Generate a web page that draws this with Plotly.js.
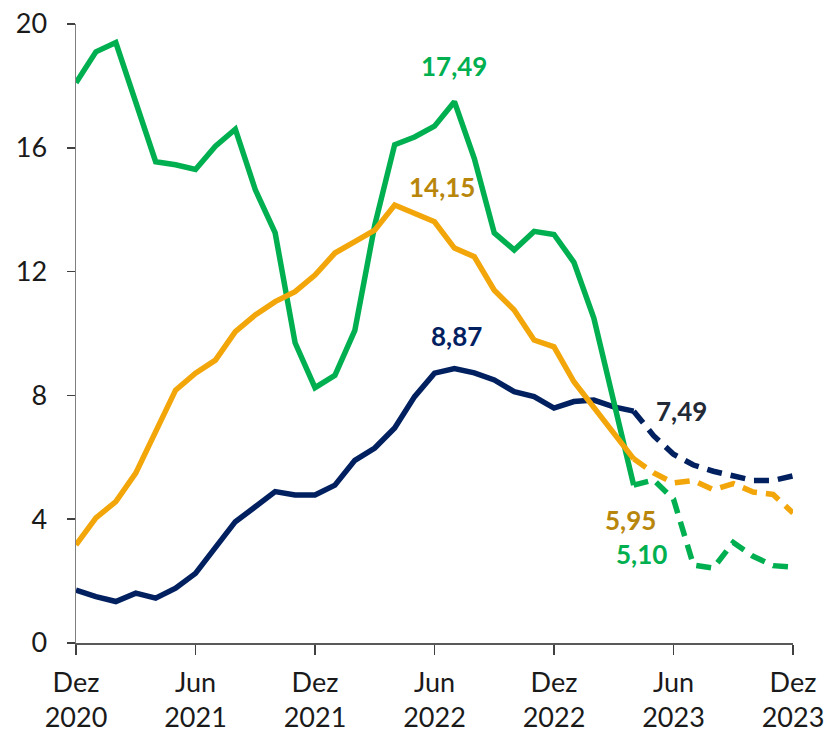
<!DOCTYPE html>
<html>
<head>
<meta charset="utf-8">
<script src="https://cdn.plot.ly/plotly-3.0.1.min.js"></script>
<style>
  html, body { margin: 0; padding: 0; background: #fff; }
  #plotArea { width: 825px; height: 732px; }
</style>
</head>
<body>
<div id="plotArea"></div>
<script>
// months, Dez 2020 .. Dez 2023
var months = ["Dez 2020", "Jan 2021", "Fev 2021", "Mar 2021", "Abr 2021", "Mai 2021", "Jun 2021",
  "Jul 2021", "Ago 2021", "Set 2021", "Out 2021", "Nov 2021", "Dez 2021",
  "Jan 2022", "Fev 2022", "Mar 2022", "Abr 2022", "Mai 2022", "Jun 2022",
  "Jul 2022", "Ago 2022", "Set 2022", "Out 2022", "Nov 2022", "Dez 2022",
  "Jan 2023", "Fev 2023", "Mar 2023", "Abr 2023"];
var monthsProj = ["Abr 2023", "Mai 2023", "Jun 2023", "Jul 2023", "Ago 2023",
  "Set 2023", "Out 2023", "Nov 2023", "Dez 2023"];

// observed series
var green = [18.1, 19.1, 19.4, 17.5, 15.55, 15.45, 15.3, 16.05, 16.6, 14.65, 13.25, 9.7, 8.25,
  8.65, 10.1, 13.5, 16.1, 16.35, 16.7, 17.49, 15.65, 13.25, 12.7, 13.3, 13.2,
  12.3, 10.5, 7.8, 5.10];
var orange = [3.17, 4.04, 4.57, 5.49, 6.83, 8.17, 8.72, 9.14, 10.06, 10.6, 11.03, 11.35, 11.89,
  12.6, 12.97, 13.34, 14.15, 13.9, 13.61, 12.76, 12.48, 11.4, 10.76, 9.79, 9.57,
  8.44, 7.63, 6.78, 5.95];
var navy = [1.71, 1.5, 1.34, 1.61, 1.45, 1.77, 2.25, 3.06, 3.92, 4.4, 4.89, 4.78, 4.78,
  5.1, 5.9, 6.3, 6.95, 7.96, 8.72, 8.87, 8.73, 8.5, 8.12, 7.96, 7.59,
  7.8, 7.85, 7.63, 7.49];

// projections (dashed)
var greenProj = [5.10, 5.27, 4.65, 2.52, 2.42, 3.25, 2.8, 2.5, 2.45];
var orangeProj = [5.95, 5.5, 5.17, 5.25, 4.95, 5.15, 4.88, 4.8, 4.2];
var navyProj = [7.49, 6.7, 6.1, 5.75, 5.55, 5.4, 5.25, 5.25, 5.4];

var tickMonths = ["Dez 2020", "Jun 2021", "Dez 2021", "Jun 2022", "Dez 2022", "Jun 2023", "Dez 2023"];
var tickLabels = ["Dez<br>2020", "Jun<br>2021", "Dez<br>2021", "Jun<br>2022", "Dez<br>2022", "Jun<br>2023", "Dez<br>2023"];

var cGreen = "#00B050", cOrange = "#F2A60A", cNavy = "#002060";
var dashStyle = "15px,9px";

function line(x, y, color, dash) {
  return {
    x: x, y: y, type: "scatter", mode: "lines", hoverinfo: "skip",
    line: {color: color, width: 5.5, dash: dash || "solid"}
  };
}

var traces = [
  line(months, navy, cNavy),
  line(months, green, cGreen),
  line(months, orange, cOrange),
  line(monthsProj, navyProj, cNavy, dashStyle),
  line(monthsProj, greenProj, cGreen, dashStyle),
  line(monthsProj, orangeProj, cOrange, dashStyle)
];

var fontFam = "Lato, 'Open Sans', sans-serif";

function fmt(v) { return v.toFixed(2).replace(".", ","); }

function label(xv, yv, color, dx, dy) {
  return {
    x: xv, y: yv, xref: "x", yref: "y", text: "<b>" + fmt(yv) + "</b>",
    showarrow: false, xshift: dx, yshift: dy,
    font: {family: fontFam, size: 26, color: color}
  };
}

var layout = {
  width: 825, height: 732,
  margin: {l: 76, r: 32, t: 24, b: 89},
  paper_bgcolor: "#fff", plot_bgcolor: "#fff",
  showlegend: false,
  font: {family: fontFam, size: 27, color: "#1a1a1a"},
  xaxis: {
    type: "category", range: [0, 36],
    tickvals: tickMonths, ticktext: tickLabels,
    ticks: "outside", ticklen: 10, tickwidth: 1.5, tickcolor: "#404040",
    showline: true, linecolor: "#595959", linewidth: 1.5,
    showgrid: false, zeroline: false, ticklabelstandoff: 5,
    tickfont: {family: fontFam, size: 27, color: "#1a1a1a"}
  },
  yaxis: {
    range: [0, 20], tickvals: [0, 4, 8, 12, 16, 20],
    ticks: "outside", ticklen: 8, tickwidth: 1.5, tickcolor: "#404040",
    showline: true, linecolor: "#7f7f7f", linewidth: 1.5,
    showgrid: false, zeroline: false, ticklabelstandoff: 14,
    tickfont: {family: fontFam, size: 27, color: "#1a1a1a"}
  },
  annotations: [
    label("Jul 2022", green[19], "#00B050", 0, 36),
    label("Abr 2022", orange[16], "#B8860B", 47, 18),
    label("Jul 2022", navy[19], "#002060", 2, 32),
    label("Abr 2023", navyProj[0], "#222A35", 48, 0),
    label("Abr 2023", orangeProj[0], "#B8860B", -3, -61),
    label("Abr 2023", greenProj[0], "#00B050", 8, -69)
  ]
};

Plotly.newPlot("plotArea", traces, layout, {displayModeBar: false, staticPlot: true});
</script>
</body>
</html>
